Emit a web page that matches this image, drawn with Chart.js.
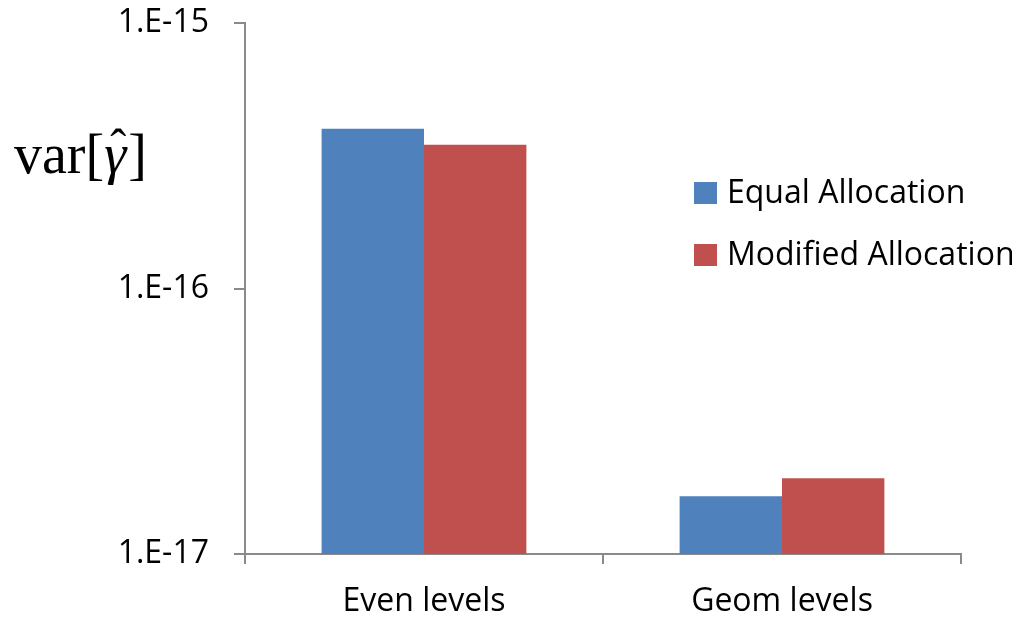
<!DOCTYPE html>
<html>
<head>
<meta charset="utf-8">
<script src="https://cdn.jsdelivr.net/npm/chart.js@4.4.1/dist/chart.umd.min.js"></script>
<style>
  html, body { margin: 0; padding: 0; background: #ffffff; }
  #wrap { width: 1017px; height: 617px; position: relative; }
</style>
</head>
<body>
<div id="wrap"><canvas id="c" width="1017" height="617"></canvas></div>
<script>
// Variance of the estimator for the two level schemes
const categories = ['Even levels', 'Geom levels'];
const equalAllocation = [4.0e-16, 1.65e-17];
const modifiedAllocation = [3.48e-16, 1.93e-17];
const seriesNames = ['Equal Allocation', 'Modified Allocation'];
const tickValues = [1e-17, 1e-16, 1e-15];
const tickLabels = ['1.E-17', '1.E-16', '1.E-15'];

const BLUE = '#4F81BD';
const RED = '#C0504D';
const AXIS = '#8a8a8a';
const FONT = "'Open Sans', sans-serif";
const FONT_SIZE = 32;

// Horizontal axis caption var[γ̂] at the upper left
const yCaption = {
  id: 'yCaption',
  afterDraw(chart) {
    const ctx = chart.ctx;
    ctx.save();
    ctx.fillStyle = '#000';
    ctx.textBaseline = 'alphabetic';
    ctx.textAlign = 'left';
    const base = 173;
    let x = 14;
    ctx.font = "56px 'Liberation Serif', serif";
    ctx.fillText('var[', x, base);
    x += ctx.measureText('var[').width;
    ctx.font = "italic 56px 'Liberation Serif', serif";
    const gw = ctx.measureText('\u03B3').width;
    ctx.fillText('\u03B3', x, base);
    // circumflex over gamma
    ctx.font = "48px 'Liberation Serif', serif";
    const hw = ctx.measureText('\u02C6').width;
    ctx.fillText('\u02C6', x + gw / 2 - hw / 2 + 3, base - 10);
    x += gw + 2;
    ctx.font = "56px 'Liberation Serif', serif";
    ctx.fillText(']', x, base);
    ctx.restore();
  }
};

// Legend drawn over the plot area, upper right
const overlayLegend = {
  id: 'overlayLegend',
  afterDraw(chart) {
    const ctx = chart.ctx;
    ctx.save();
    ctx.font = FONT_SIZE + 'px ' + FONT;
    ctx.textBaseline = 'middle';
    ctx.textAlign = 'left';
    const x0 = 694, y0 = 193, step = 62, box = 22;
    chart.data.datasets.forEach((ds, i) => {
      const cy = y0 + i * step;
      ctx.fillStyle = ds.backgroundColor;
      ctx.fillRect(x0, cy - box / 2, box + 1, box);
      ctx.fillStyle = '#000';
      ctx.fillText(ds.label, x0 + 33, cy + 1);
    });
    ctx.restore();
  }
};

new Chart(document.getElementById('c'), {
  type: 'bar',
  data: {
    labels: categories,
    datasets: [
      { label: seriesNames[0], data: equalAllocation, backgroundColor: BLUE, borderWidth: 0 },
      { label: seriesNames[1], data: modifiedAllocation, backgroundColor: RED, borderWidth: 0 }
    ]
  },
  options: {
    responsive: false,
    animation: false,
    devicePixelRatio: 1,
    layout: { padding: { left: 0, right: 56, top: 23, bottom: 0 } },
    datasets: { bar: { categoryPercentage: 0.572, barPercentage: 1.0 } },
    plugins: {
      legend: { display: false },
      tooltip: { enabled: false }
    },
    scales: {
      x: {
        grid: { display: true, drawOnChartArea: false, drawTicks: true, tickLength: 10, color: AXIS, lineWidth: 2, offset: true },
        border: { display: true, color: AXIS, width: 2 },
        ticks: { color: '#000', font: { family: FONT, size: FONT_SIZE }, padding: 19 },
        afterFit(s) { s.height = 63; s.paddingLeft = 0; s.paddingRight = 0; }
      },
      y: {
        type: 'logarithmic',
        min: tickValues[0],
        max: tickValues[tickValues.length - 1],
        grid: { display: true, drawOnChartArea: false, drawTicks: true, tickLength: 11, color: AXIS, lineWidth: 2 },
        border: { display: true, color: AXIS, width: 2 },
        ticks: {
          color: '#000',
          font: { family: FONT, size: FONT_SIZE },
          padding: 25,
          callback(v) {
            const i = tickValues.findIndex(t => Math.abs(Math.log10(t) - Math.log10(v)) < 1e-6);
            return i >= 0 ? tickLabels[i] : '';
          }
        },
        afterBuildTicks(s) { s.ticks = tickValues.map(v => ({ value: v })); },
        afterFit(s) { s.width = 245; s.paddingTop = 0; s.paddingBottom = 0; }
      }
    }
  },
  plugins: [yCaption, overlayLegend]
});
</script>
</body>
</html>
